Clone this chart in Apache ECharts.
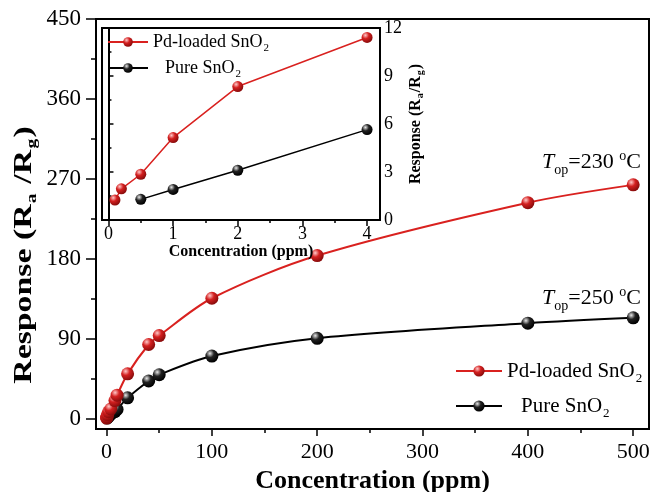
<!DOCTYPE html>
<html>
<head>
<meta charset="utf-8">
<script src="https://cdn.jsdelivr.net/npm/echarts@6/dist/echarts.min.js"></script>
<style>
  html, body { margin: 0; padding: 0; background: #fff; }
  #chart { width: 652px; height: 492px; }
</style>
</head>
<body>
<div id="chart"></div>
<script>
// main plot data (ppm -> Ra/Rg)
const pdConc = [0.1, 0.2, 0.5, 1, 2, 4, 8, 10, 20, 40, 50, 100, 200, 400, 500]
const pdResp = [1.3, 2.0, 2.9, 5.2, 8.4, 11.5, 21, 27, 51, 84, 94, 136, 184, 243.5, 263.5]
const pureConc = [0.5, 1, 2, 4, 8, 10, 20, 40, 50, 100, 200, 400, 500]
const pureResp = [1.3, 1.9, 3.1, 5.65, 8.5, 11, 24, 43, 50, 71, 91, 108, 114]

// inset data (low concentration)
const insetPdConc = [0.1, 0.2, 0.5, 1, 2, 4]
const insetPdResp = [1.25, 1.95, 2.86, 5.15, 8.34, 11.41]
const insetPureConc = [0.5, 1, 2, 4]
const insetPureResp = [1.29, 1.91, 3.11, 5.65]

// ticks
const mainXTicks = [0, 100, 200, 300, 400, 500]
const mainXMinor = [50, 150, 250, 350, 450]
const mainYTicks = [0, 90, 180, 270, 360, 450]
const mainYMinor = [45, 135, 225, 315, 405]
const insetXTicks = [0, 1, 2, 3, 4]
const insetXMinor = [0.5, 1.5, 2.5, 3.5]

const RED = '#d9211f'
const FONT = 'Liberation Serif'

const chart = echarts.init(document.getElementById('chart'))

const ball = (base, light, dark) => new echarts.graphic.RadialGradient(0.35, 0.3, 0.7, [
  { offset: 0, color: light },
  { offset: 0.45, color: base },
  { offset: 1, color: dark }
])
const redBall = ball('#d42020', '#ffc8c8', '#8a0c0c')
const blackBall = ball('#222', '#e8e8e8', '#000')

const pairs = (xs, ys) => xs.map((x, i) => [x, ys[i]])

const subRich = (size, indent) => ({
  a: { fontFamily: FONT, fontSize: size, color: '#000', verticalAlign: 'middle', lineHeight: size + 2 },
  b: { fontFamily: FONT, fontSize: size, color: '#000', verticalAlign: 'middle', lineHeight: size + 2, padding: [0, 0, 0, indent] },
  s: { fontFamily: FONT, fontSize: Math.round(size * 0.62), color: '#000', verticalAlign: 'middle', lineHeight: Math.round(size * 0.62), padding: [Math.round(size * 0.7), 0, 0, 1] }
})

const legendFmt = (name) => name.indexOf('Pd') === 0 ? '{a|Pd-loaded SnO}{s|2}' : '{b|Pure SnO}{s|2}'

const tempText = (t, color) => ({
  rich: {
    t: { fontFamily: FONT, fontStyle: 'italic', fontSize: 22, color, verticalAlign: 'middle', lineHeight: 24 },
    o: { fontFamily: FONT, fontSize: 14, color, verticalAlign: 'middle', lineHeight: 14, padding: [16, 0, 0, 0] },
    n: { fontFamily: FONT, fontSize: 22, color, verticalAlign: 'middle', lineHeight: 24 },
    u: { fontFamily: FONT, fontSize: 14, color, verticalAlign: 'middle', lineHeight: 14, padding: [0, 0, 12, 0] }
  },
  text: '{t|T}{o|op}{n|=' + t + ' }{u|o}{n|C}'
})

const minorAxis = (gridIndex, position, min, max, values, length) => ({
  gridIndex, position, type: 'value', min, max,
  splitLine: { show: false },
  axisLine: { show: false, onZero: false },
  axisLabel: { show: false },
  axisTick: { customValues: values, length, lineStyle: { color: '#000', width: 1.5 } }
})

const option = {
  backgroundColor: '#fff',
  animation: false,
  grid: [
    { left: 96, top: 19, width: 553, height: 410, outerBoundsMode: 'none', show: true, borderColor: '#000', borderWidth: 2, backgroundColor: 'transparent' },
    { left: 102, top: 28, width: 278, height: 192, outerBoundsMode: 'none', show: true, borderColor: '#000', borderWidth: 2, backgroundColor: '#fff', z: 5 }
  ],
  xAxis: [
    {
      gridIndex: 0, type: 'value', position: 'bottom', min: -10, max: 515,
      splitLine: { show: false },
      axisLine: { onZero: false, lineStyle: { color: '#000', width: 2 } },
      axisTick: { customValues: mainXTicks, length: 7, lineStyle: { color: '#000', width: 1.5 } },
      axisLabel: { customValues: mainXTicks, margin: 12, fontFamily: FONT, fontSize: 22, color: '#000' },
      name: 'Concentration (ppm)', nameLocation: 'middle', nameGap: 37,
      nameTextStyle: { fontFamily: FONT, fontWeight: 'bold', fontSize: 26, color: '#000' }
    },
    minorAxis(0, 'bottom', -10, 515, mainXMinor, 4),
    {
      gridIndex: 1, type: 'value', position: 'bottom', min: -0.1, max: 4.2, z: 6,
      splitLine: { show: false },
      axisLine: { onZero: false, lineStyle: { color: '#000', width: 2 } },
      axisTick: { customValues: insetXTicks, length: 6, lineStyle: { color: '#000', width: 1.5 } },
      axisLabel: { customValues: insetXTicks, margin: 5, fontFamily: FONT, fontSize: 18, color: '#000' },
      name: 'Concentration (ppm)', nameLocation: 'middle', nameGap: 14,
      nameTextStyle: { fontFamily: FONT, fontWeight: 'bold', fontSize: 16, color: '#000' }
    },
    Object.assign(minorAxis(1, 'bottom', -0.1, 4.2, insetXMinor, 3), { z: 6 })
  ],
  yAxis: [
    {
      gridIndex: 0, type: 'value', position: 'left', min: -11, max: 450,
      splitLine: { show: false },
      axisLine: { onZero: false, lineStyle: { color: '#000', width: 2 } },
      axisTick: { customValues: mainYTicks, length: 10, lineStyle: { color: '#000', width: 1.5 } },
      axisLabel: { customValues: mainYTicks, margin: 15, fontFamily: FONT, fontSize: 23, color: '#000' }
    },
    minorAxis(0, 'left', -11, 450, mainYMinor, 5),
    {
      gridIndex: 1, type: 'value', position: 'right', min: 0, max: 12, interval: 3, z: 6,
      splitLine: { show: false },
      axisLine: { lineStyle: { color: '#000', width: 2 } },
      axisTick: { length: 5, lineStyle: { color: '#000', width: 1.5 } },
      minorTick: { show: true, splitNumber: 2, length: 3, lineStyle: { color: '#000', width: 1.5 } },
      axisLabel: { margin: 4, fontFamily: FONT, fontSize: 18, color: '#000' },
      name: '{a|Response (R}{s|a}{a|/R}{s|g}{a|)}', nameLocation: 'middle', nameGap: 21, nameRotate: 90,
      nameTextStyle: {
        rich: {
          a: { fontFamily: FONT, fontWeight: 'bold', fontSize: 16, color: '#000', verticalAlign: 'middle', lineHeight: 17 },
          s: { fontFamily: FONT, fontWeight: 'bold', fontSize: 10, color: '#000', verticalAlign: 'middle', lineHeight: 10, padding: [10, 1, 0, 1] }
        }
      }
    }
  ],
  legend: [
    {
      orient: 'vertical', left: 450, top: 352, itemWidth: 46, itemHeight: 14, itemGap: 7,
      data: ['Pd-loaded SnO2', 'Pure SnO2'],
      formatter: legendFmt,
      textStyle: { rich: subRich(21, 14) }
    },
    {
      orient: 'vertical', left: 102, top: 25, itemWidth: 40, itemHeight: 12, itemGap: 2, z: 10,
      data: ['Pd inset', 'Pure inset'],
      formatter: legendFmt,
      textStyle: { rich: subRich(18, 12) }
    }
  ],
  graphic: [
    {
      type: 'text', x: 24, y: 255, rotation: Math.PI / 2, scaleX: 1.3,
      style: {
        text: '{a|Response (R}{s|a}{a| /R}{s|g}{a|)}', align: 'center', verticalAlign: 'middle',
        rich: {
          a: { fontFamily: FONT, fontWeight: 'bold', fontSize: 26, color: '#000', verticalAlign: 'middle', lineHeight: 28 },
          s: { fontFamily: FONT, fontWeight: 'bold', fontSize: 15, color: '#000', verticalAlign: 'middle', lineHeight: 15, padding: [16, 1, 0, 1] }
        }
      }
    },
    { type: 'text', left: 542, top: 147, style: tempText('230', RED) },
    { type: 'text', left: 542, top: 283, style: tempText('250', '#000') }
  ],
  series: [
    {
      name: 'Pd-loaded SnO2', type: 'line', xAxisIndex: 0, yAxisIndex: 0,
      data: pairs(pdConc, pdResp), smooth: 0.3,
      symbol: 'circle', symbolSize: 13,
      itemStyle: { color: redBall }, lineStyle: { color: RED, width: 2 }, z: 3
    },
    {
      name: 'Pure SnO2', type: 'line', xAxisIndex: 0, yAxisIndex: 0,
      data: pairs(pureConc, pureResp), smooth: 0.3,
      symbol: 'circle', symbolSize: 13,
      itemStyle: { color: blackBall }, lineStyle: { color: '#000', width: 2 }, z: 2
    },
    {
      name: 'Pd inset', type: 'line', xAxisIndex: 2, yAxisIndex: 2,
      data: pairs(insetPdConc, insetPdResp),
      symbol: 'circle', symbolSize: 11,
      itemStyle: { color: redBall }, lineStyle: { color: RED, width: 1.5 }, z: 8
    },
    {
      name: 'Pure inset', type: 'line', xAxisIndex: 2, yAxisIndex: 2,
      data: pairs(insetPureConc, insetPureResp),
      symbol: 'circle', symbolSize: 11,
      itemStyle: { color: blackBall }, lineStyle: { color: '#000', width: 1.5 }, z: 8
    }
  ]
}

chart.setOption(option)
window.addEventListener('resize', () => chart.resize())
</script>
</body>
</html>
